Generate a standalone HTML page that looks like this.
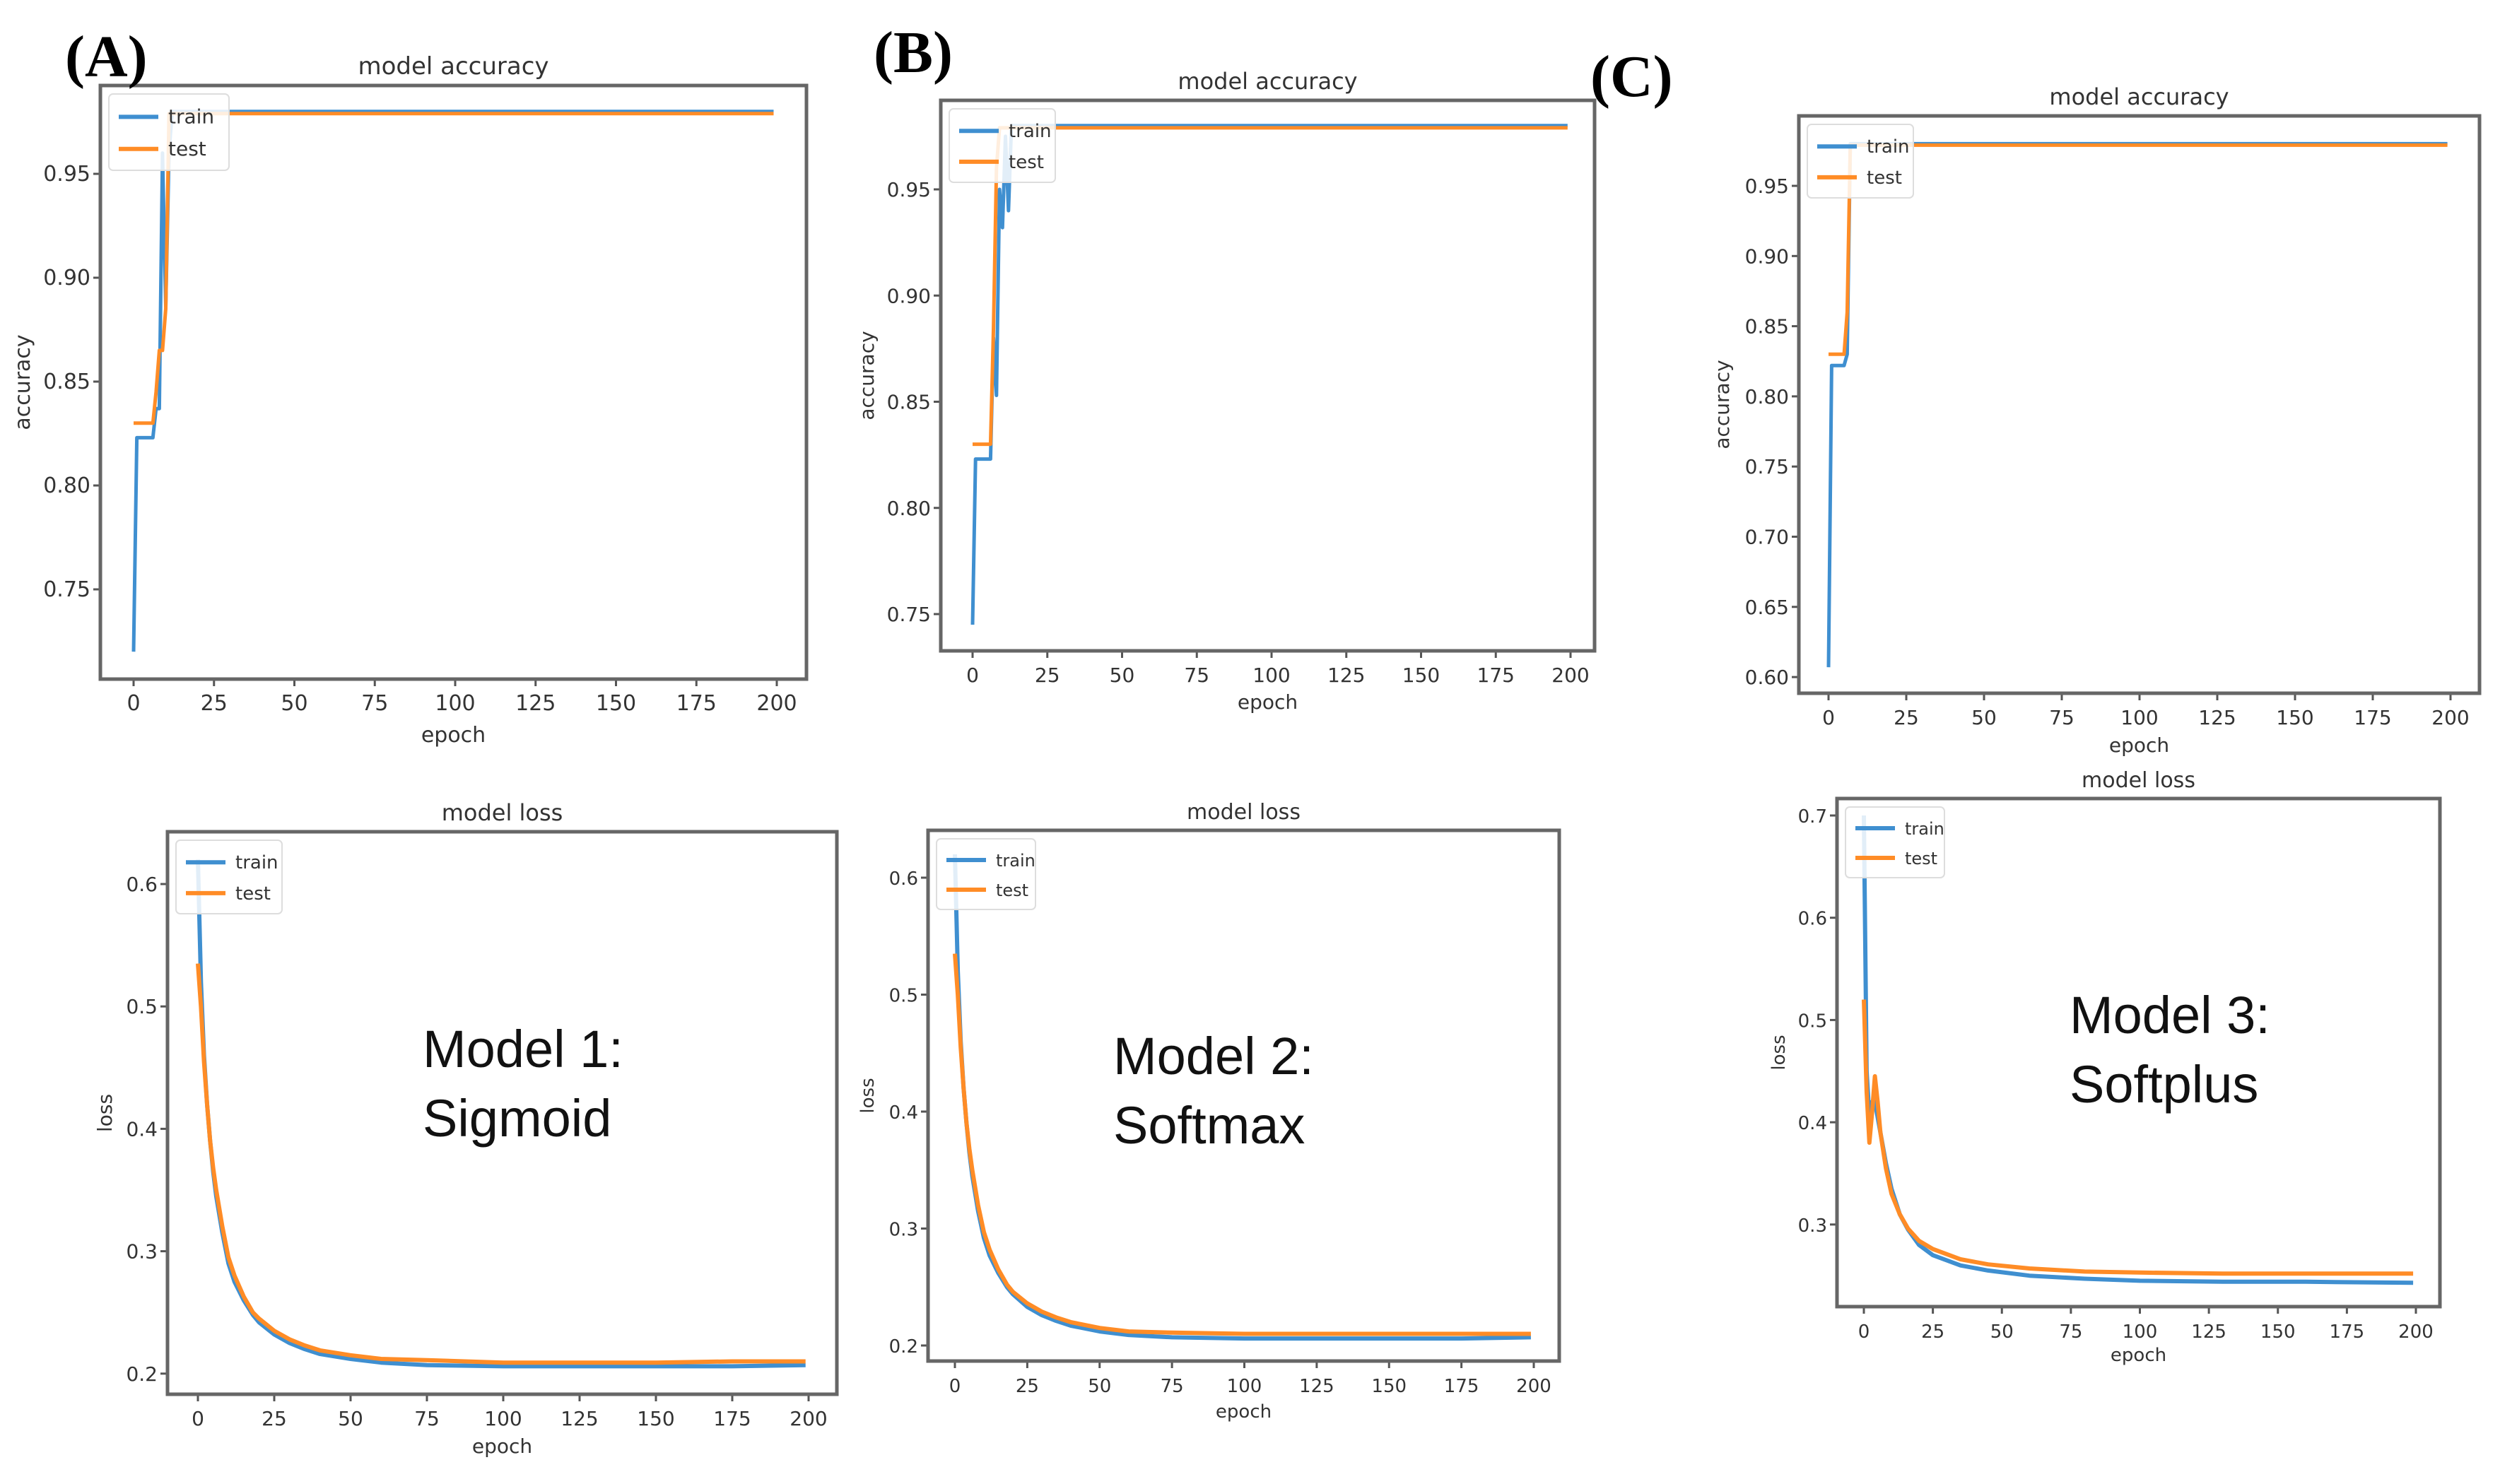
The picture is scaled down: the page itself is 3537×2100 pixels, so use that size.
<!DOCTYPE html>
<html><head><meta charset="utf-8">
<style>
html,body{margin:0;padding:0;background:#fff;}
svg{display:block;}
text{font-family:"DejaVu Sans","Liberation Sans",sans-serif;fill:#333;}
.lbl{font-family:"Liberation Serif",serif;font-weight:bold;fill:#000;}
.model{font-family:"Liberation Sans",sans-serif;fill:#111;}
</style></head>
<body>
<svg id="fig" width="3537" height="2100" viewBox="0 0 3537 2100" xmlns="http://www.w3.org/2000/svg">
<rect width="3537" height="2100" fill="#fff"/>
</svg>
<script>
// ---------- data ----------
const xTicks = [0,25,50,75,100,125,150,175,200];
const accTicksAB = [0.75,0.80,0.85,0.90,0.95];
const accTicksC = [0.60,0.65,0.70,0.75,0.80,0.85,0.90,0.95];
const lossTicksAB = [0.2,0.3,0.4,0.5,0.6];
const lossTicksC = [0.3,0.4,0.5,0.6,0.7];

const accA_trainEpochs = [0,1,2,3,4,5,6,7,8,9,10,11,12,199];
const accA_trainValues = [0.72,0.823,0.823,0.823,0.823,0.823,0.823,0.837,0.837,0.96,0.886,0.96,0.98,0.98];
const accA_testEpochs = [0,1,2,3,4,5,6,7,8,9,10,11,199];
const accA_testValues = [0.83,0.83,0.83,0.83,0.83,0.83,0.83,0.845,0.865,0.865,0.885,0.979,0.979];

const accB_trainEpochs = [0,1,2,3,4,5,6,7,8,9,10,11,12,13,199];
const accB_trainValues = [0.745,0.823,0.823,0.823,0.823,0.823,0.823,0.88,0.853,0.95,0.932,0.975,0.94,0.98,0.98];
const accB_testEpochs = [0,1,2,3,4,5,6,7,8,9,199];
const accB_testValues = [0.83,0.83,0.83,0.83,0.83,0.83,0.83,0.885,0.96,0.979,0.979];

const accC_trainEpochs = [0,1,2,3,4,5,6,7,199];
const accC_trainValues = [0.607,0.822,0.822,0.822,0.822,0.822,0.83,0.98,0.98];
const accC_testEpochs = [0,1,2,3,4,5,6,7,199];
const accC_testValues = [0.83,0.83,0.83,0.83,0.83,0.83,0.86,0.979,0.979];

const lossA_epochs = [0,1,2,3,4,5,6,8,10,12,15,18,20,25,30,35,40,50,60,75,100,125,150,175,199];
const lossA_train = [0.62,0.52,0.46,0.42,0.39,0.365,0.345,0.315,0.29,0.275,0.26,0.248,0.242,0.232,0.225,0.22,0.216,0.212,0.209,0.207,0.206,0.206,0.206,0.206,0.207];
const lossA_test = [0.535,0.5,0.455,0.42,0.39,0.368,0.35,0.32,0.295,0.28,0.263,0.25,0.245,0.235,0.228,0.223,0.219,0.215,0.212,0.211,0.209,0.209,0.209,0.21,0.21];

const lossB_epochs = [0,1,2,3,4,5,6,8,10,12,15,18,20,25,30,35,40,50,60,75,100,125,150,175,199];
const lossB_train = [0.62,0.52,0.46,0.42,0.39,0.365,0.345,0.315,0.292,0.277,0.262,0.25,0.244,0.233,0.226,0.221,0.217,0.212,0.209,0.207,0.206,0.206,0.206,0.206,0.207];
const lossB_test = [0.535,0.5,0.455,0.42,0.39,0.368,0.35,0.32,0.297,0.282,0.265,0.252,0.246,0.236,0.229,0.224,0.22,0.215,0.212,0.211,0.21,0.21,0.21,0.21,0.21];

const lossC_trainEpochs = [0,1,2,3,4,6,8,10,13,16,20,25,35,45,60,80,100,130,160,199];
const lossC_train = [0.7,0.45,0.405,0.42,0.42,0.39,0.36,0.335,0.31,0.295,0.28,0.27,0.26,0.255,0.25,0.247,0.245,0.244,0.244,0.243];
const lossC_testEpochs = [0,1,2,3,4,5,6,8,10,13,16,20,25,35,45,60,80,100,130,160,199];
const lossC_test = [0.52,0.43,0.38,0.41,0.445,0.42,0.39,0.355,0.33,0.31,0.296,0.284,0.276,0.266,0.261,0.257,0.254,0.253,0.252,0.252,0.252];

// ---------- drawing ----------
const NS = "http://www.w3.org/2000/svg";
const svg = document.getElementById('fig');
const BLUE = "#3f8fd0", ORANGE = "#ff8c26";

function mk(tag, attrs, parent){
  const e = document.createElementNS(NS, tag);
  for (const k in attrs) e.setAttribute(k, attrs[k]);
  (parent||svg).appendChild(e);
  return e;
}

function panel(p){
  const g = mk('g', {});
  
  
  const sx = v => p.x0 + (v - 0) * (p.x200 - p.x0) / 200;
  const sy = v => p.refPx + (p.refVal - v) * p.pxPerUnit;
  // ticks
  xTicks.forEach(t => {
    const x = sx(t);
    const tk = mk('line', {x1:x, y1:p.bottom, x2:x, y2:p.bottom+10, stroke:'#555', 'stroke-width':3}, g);
    
    
    const tl = mk('text', {x:x, y:p.bottom+44, 'text-anchor':'middle', 'font-size':p.tfs}, g);
    tl.textContent = t;
    
    
  });
  p.yTicks.forEach(t => {
    const y = sy(t);
    const tk = mk('line', {x1:p.left-10, y1:y, x2:p.left, y2:y, stroke:'#555', 'stroke-width':3}, g);
    
    
    const tl = mk('text', {x:p.left-14, y:y+10, 'text-anchor':'end', 'font-size':p.tfs}, g);
    tl.textContent = p.yFmt(t);
    
    
  });
  // series
  p.series.forEach(s => {
    const d = s.x.map((e,i) => (i?'L':'M') + sx(e).toFixed(1) + ',' + sy(s.y[i]).toFixed(1)).join(' ');
    const path = mk('path', {d:d, fill:'none', stroke:s.color, 'stroke-width':p.lw, 'stroke-linejoin':'round'}, g);
    
    
  });
  // frame
  const fr = mk('rect', {x:p.left, y:p.top, width:p.right-p.left, height:p.bottom-p.top, fill:'none', stroke:'#666', 'stroke-width':5}, g);
  
  
  // title
  const ti = mk('text', {x:(p.left+p.right)/2, y:p.top-16, 'text-anchor':'middle', 'font-size':p.tfs+4}, g);
  ti.textContent = p.title;
  
  
  // x label
  const xl = mk('text', {x:(p.left+p.right)/2, y:p.xlabY, 'text-anchor':'middle', 'font-size':p.tfs}, g);
  xl.textContent = 'epoch';
  
  
  // y label
  const yl = mk('text', {x:0, y:0, 'text-anchor':'middle', 'font-size':p.tfs, transform:`translate(${p.ylabX},${(p.top+p.bottom)/2}) rotate(-90)`}, g);
  yl.textContent = p.ylab;
  
  
  // legend
  const lg = mk('g', {}, g);
  
  
  const lx = p.left + 12, ly = p.top + 12;
  mk('rect', {x:lx, y:ly, width:p.legW, height:p.legH, rx:6, fill:'#fff', 'fill-opacity':0.85, stroke:'#ddd', 'stroke-width':2}, lg);
  p.series.forEach((s,i) => {
    const yy = ly + p.legH*0.3 + i*p.legH*0.42;
    const ln = mk('line', {x1:lx+14, y1:yy, x2:lx+70, y2:yy, stroke:s.color, 'stroke-width':6}, lg);
    
    
    const tx = mk('text', {x:lx+84, y:yy+9, 'font-size':p.tfs-2}, lg);
    tx.textContent = s.label;
    
    
  });
}

const f2 = v => v.toFixed(2), f1 = v => v.toFixed(1);

panel({name:'panel-a-accuracy', title:'model accuracy', ylab:'accuracy', left:142, right:1141, top:121, bottom:961,
  x0:189, x200:1099, refVal:0.95, refPx:246, pxPerUnit:2940, yTicks:accTicksAB, yFmt:f2, tfs:30, lw:5,
  xlabY:1050, ylabX:42, legW:170, legH:108,
  series:[{label:'train', color:BLUE, x:accA_trainEpochs, y:accA_trainValues},{label:'test', color:ORANGE, x:accA_testEpochs, y:accA_testValues}]});
panel({name:'panel-b-accuracy', title:'model accuracy', ylab:'accuracy', left:1331, right:2256, top:142, bottom:921,
  x0:1376, x200:2222, refVal:0.95, refPx:268, pxPerUnit:3005, yTicks:accTicksAB, yFmt:f2, tfs:28, lw:5,
  xlabY:1003, ylabX:1236, legW:150, legH:104,
  series:[{label:'train', color:BLUE, x:accB_trainEpochs, y:accB_trainValues},{label:'test', color:ORANGE, x:accB_testEpochs, y:accB_testValues}]});
panel({name:'panel-c-accuracy', title:'model accuracy', ylab:'accuracy', left:2545, right:3508, top:164, bottom:981,
  x0:2587, x200:3467, refVal:0.95, refPx:263, pxPerUnit:1986, yTicks:accTicksC, yFmt:f2, tfs:28, lw:5,
  xlabY:1064, ylabX:2446, legW:150, legH:104,
  series:[{label:'train', color:BLUE, x:accC_trainEpochs, y:accC_trainValues},{label:'test', color:ORANGE, x:accC_testEpochs, y:accC_testValues}]});

panel({name:'panel-a-loss', title:'model loss', ylab:'loss', left:237, right:1184, top:1177, bottom:1973,
  x0:280, x200:1144, refVal:0.6, refPx:1251, pxPerUnit:1732, yTicks:lossTicksAB, yFmt:f1, tfs:28, lw:6,
  xlabY:2056, ylabX:158, legW:150, legH:104,
  series:[{label:'train', color:BLUE, x:lossA_epochs, y:lossA_train},{label:'test', color:ORANGE, x:lossA_epochs, y:lossA_test}]});
panel({name:'panel-b-loss', title:'model loss', ylab:'loss', left:1313, right:2206, top:1175, bottom:1926,
  x0:1351, x200:2170, refVal:0.6, refPx:1242, pxPerUnit:1655, yTicks:lossTicksAB, yFmt:f1, tfs:26, lw:6,
  xlabY:2006, ylabX:1236, legW:140, legH:100,
  series:[{label:'train', color:BLUE, x:lossB_epochs, y:lossB_train},{label:'test', color:ORANGE, x:lossB_epochs, y:lossB_test}]});
panel({name:'panel-c-loss', title:'model loss', ylab:'loss', left:2599, right:3452, top:1130, bottom:1849,
  x0:2637, x200:3418, refVal:0.7, refPx:1154, pxPerUnit:1447, yTicks:lossTicksC, yFmt:f1, tfs:26, lw:6,
  xlabY:1926, ylabX:2525, legW:140, legH:100,
  series:[{label:'train', color:BLUE, x:lossC_trainEpochs, y:lossC_train},{label:'test', color:ORANGE, x:lossC_testEpochs, y:lossC_test}]});

// panel letters & model annotations
function txt(x,y,s,cls,size,name){
  const t = mk('text', {x:x, y:y, 'font-size':size, class:cls});
  t.textContent = s;
  
  
}
txt(92,108,'(A)','lbl',84,'panel-label-a');
txt(1236,102,'(B)','lbl',84,'panel-label-b');
txt(2250,136,'(C)','lbl',84,'panel-label-c');
txt(598,1510,'Model 1:','model',74,'model-1-label');
txt(598,1608,'Sigmoid','model',74,'model-1-activation');
txt(1575,1520,'Model 2:','model',74,'model-2-label');
txt(1575,1618,'Softmax','model',74,'model-2-activation');
txt(2928,1462,'Model 3:','model',74,'model-3-label');
txt(2928,1560,'Softplus','model',74,'model-3-activation');
</script>
</body></html>
